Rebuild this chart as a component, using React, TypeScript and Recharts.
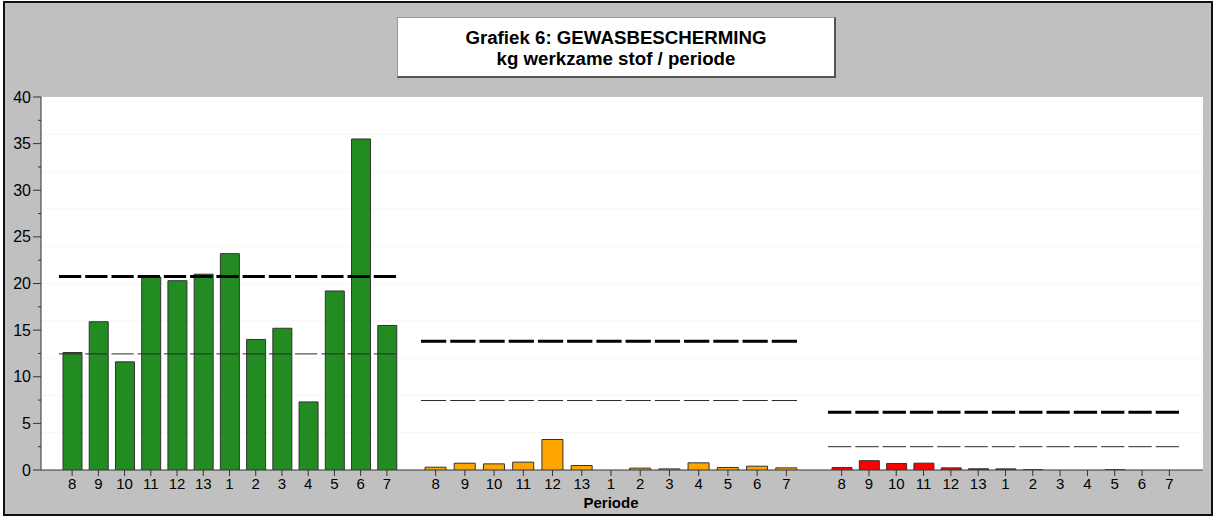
import { Bar, BarChart, CartesianGrid, ReferenceLine, XAxis, YAxis } from "recharts";

const periodes = ["8", "9", "10", "11", "12", "13", "1", "2", "3", "4", "5", "6", "7"];
const groen = [12.6, 15.9, 11.6, 20.7, 20.3, 21.0, 23.2, 14.0, 15.2, 7.3, 19.2, 35.5, 15.5];
const oranje = [0.3, 0.73, 0.66, 0.84, 3.27, 0.48, 0, 0.2, 0.12, 0.77, 0.27, 0.41, 0.23];
const rood = [0.27, 1.0, 0.7, 0.73, 0.23, 0.13, 0.12, 0.02, 0, 0, 0.02, 0, 0];
const normHoog = [20.75, 13.8, 6.2];
const normLaag = [12.45, 7.45, 2.5];
const yTicks = [0, 2.5, 5, 7.5, 10, 12.5, 15, 17.5, 20, 22.5, 25, 27.5, 30, 32.5, 35, 37.5, 40];
const gridWaarden = [4, 8, 12, 16, 20, 24, 28, 32, 36];

const H = 517;
const MARGIN = { top: 97, bottom: 7 };
const AX = 41;
const FONT = '"Liberation Sans", Arial, sans-serif';

const YTick = (props: any) => {
  const { y, payload } = props;
  const major = payload.value % 5 === 0;
  return (
    <g>
      <line x1={AX - (major ? 8 : 3)} x2={AX} y1={y} y2={y} stroke="#333" />
      {major && (
        <text x={AX - 10} y={y} dy="0.35em" textAnchor="end" fontSize={16} fill="#000">
          {payload.value}
        </text>
      )}
    </g>
  );
};

interface GroepProps {
  values: number[];
  color: string;
  left: number;
  width: number;
  barSize: number;
  hoog: number;
  laag: number;
  label?: string;
}

const Groep = ({ values, color, left, width, barSize, hoog, laag, label }: GroepProps) => {
  const data = periodes.map((p, i) => ({ periode: p, waarde: values[i] }));
  const band = width / periodes.length;
  const dash = `${band - 4} 4`;
  return (
    <div style={{ position: "absolute", left, top: 0 }}>
      <BarChart
        width={width}
        height={H}
        data={data}
        margin={{ top: MARGIN.top, right: 0, bottom: MARGIN.bottom, left: 0 }}
        barSize={barSize}
      >
        <XAxis
          dataKey="periode"
          height={40}
          interval={0}
          axisLine={false}
          tickLine={{ stroke: "#333" }}
          tickSize={6}
          tickMargin={2}
          tick={{ fill: "#000", fontSize: 15 }}
          label={
            label
              ? { value: label, position: "insideBottom", offset: 2, fill: "#000", fontSize: 15, fontWeight: "bold" }
              : undefined
          }
        />
        <YAxis hide type="number" domain={[0, 40]} allowDataOverflow />
        <Bar dataKey="waarde" fill={color} stroke="#333" strokeWidth={1} isAnimationActive={false} />
        <ReferenceLine y={laag} stroke="#2a2a2a" strokeWidth={1} strokeDasharray={dash} />
        <ReferenceLine y={hoog} stroke="#000" strokeWidth={3} strokeDasharray={dash} />
      </BarChart>
    </div>
  );
};

const App = () => {
  return (
    <div
      style={{
        position: "absolute",
        left: 0,
        top: 0,
        width: 1215,
        height: H,
        background: "#fff",
        fontFamily: FONT,
      }}
    >
      <div
        style={{
          position: "absolute",
          left: 3,
          top: 1,
          width: 1210,
          height: 515,
          boxSizing: "border-box",
          border: "2px solid #111",
          background: "#c0c0c0",
        }}
      />
      <div style={{ position: "absolute", left: 0, top: 0 }}>
        <BarChart
          width={1215}
          height={H}
          data={periodes.map((p) => ({ periode: p }))}
          margin={{ top: MARGIN.top, right: 12, bottom: MARGIN.bottom, left: 0 }}
        >
          <CartesianGrid vertical={false} horizontalValues={gridWaarden} stroke="#f6f6f6" fill="#fff" />
          <XAxis dataKey="periode" height={40} tick={false} tickLine={false} axisLine={{ stroke: "#333" }} />
          <YAxis
            type="number"
            width={AX}
            domain={[0, 40]}
            allowDataOverflow
            ticks={yTicks}
            interval={0}
            axisLine={{ stroke: "#333" }}
            tickLine={false}
            tick={<YTick />}
          />
        </BarChart>
      </div>
      <Groep values={groen} color="#228b22" left={59} width={341} barSize={19} hoog={normHoog[0]} laag={normLaag[0]} />
      <Groep
        values={oranje}
        color="#ffa500"
        left={421}
        width={380}
        barSize={21}
        hoog={normHoog[1]}
        laag={normLaag[1]}
        label="Periode"
      />
      <Groep values={rood} color="#ff0000" left={828} width={355} barSize={20} hoog={normHoog[2]} laag={normLaag[2]} />
      <div
        style={{
          position: "absolute",
          left: 397,
          top: 17,
          width: 439,
          height: 61,
          boxSizing: "border-box",
          background: "#fff",
          border: "1px solid #999",
          borderRight: "2px solid #555",
          borderBottom: "2px solid #555",
          paddingTop: 9,
          textAlign: "center",
          fontWeight: "bold",
          fontSize: 18.7,
          lineHeight: "21px",
          color: "#000",
        }}
      >
        Grafiek 6: GEWASBESCHERMING
        <br />
        kg werkzame stof / periode
      </div>
    </div>
  );
};

export default App;
